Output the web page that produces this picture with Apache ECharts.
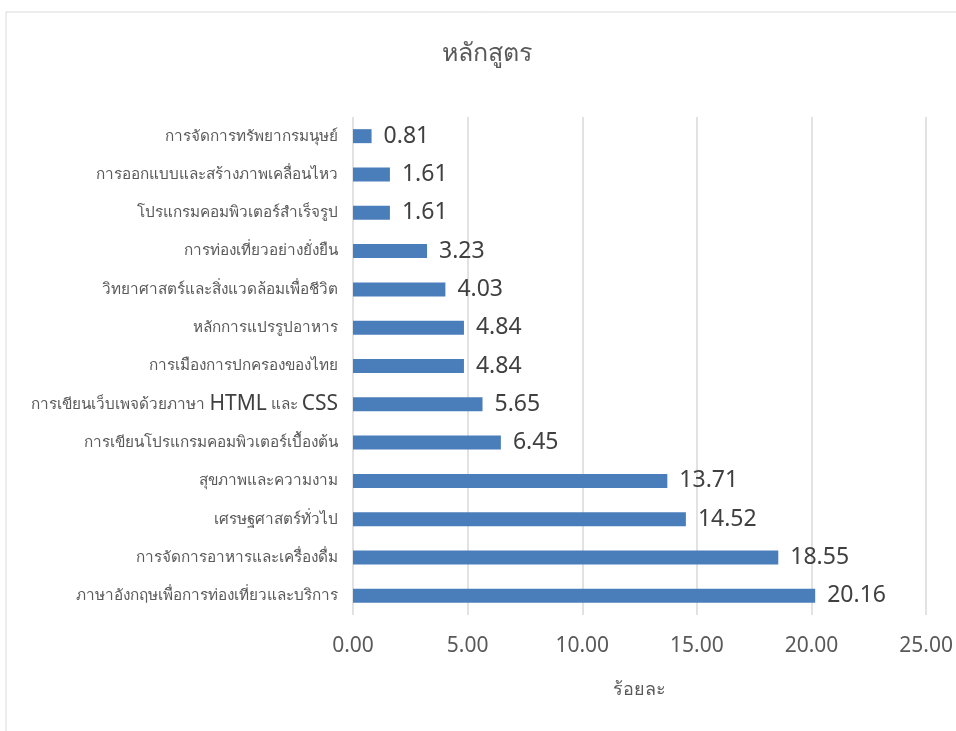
<!DOCTYPE html>
<html><head><meta charset="utf-8">
<style>html,body{margin:0;padding:0;background:#fff}#c{width:956px;height:731px}</style>
<script src="https://cdn.jsdelivr.net/npm/echarts@6/dist/echarts.min.js"></script>
</head><body><div id="c"></div>
<script>
var categories = [
  "ภาษาอังกฤษเพื่อการท่องเที่ยวและบริการ",
  "การจัดการอาหารและเครื่องดื่ม",
  "เศรษฐศาสตร์ทั่วไป",
  "สุขภาพและความงาม",
  "การเขียนโปรแกรมคอมพิวเตอร์เบื้องต้น",
  "การเขียนเว็บเพจด้วยภาษา HTML และ CSS",
  "การเมืองการปกครองของไทย",
  "หลักการแปรรูปอาหาร",
  "วิทยาศาสตร์และสิ่งแวดล้อมเพื่อชีวิต",
  "การท่องเที่ยวอย่างยั่งยืน",
  "โปรแกรมคอมพิวเตอร์สำเร็จรูป",
  "การออกแบบและสร้างภาพเคลื่อนไหว",
  "การจัดการทรัพยากรมนุษย์"
];
var values = [20.16, 18.55, 14.52, 13.71, 6.45, 5.65, 4.84, 4.84, 4.03, 3.23, 1.61, 1.61, 0.81];
var titleText = "หลักสูตร";
var xAxisName = "ร้อยละ";

var font = "'Noto Sans', 'Liberation Sans', sans-serif";

// split label into Thai and Latin runs so Latin words render larger, as in the reference
function richLabel(s) {
  var parts = s.split(/([A-Za-z]+)/);
  var out = '';
  parts.forEach(function(p){
    if (!p) return;
    out += /^[A-Za-z]+$/.test(p) ? '{l|' + p + '}' : '{t|' + p + '}';
  });
  return out;
}

var chart = echarts.init(document.getElementById('c'));
chart.setOption({
  animation: false,
  textStyle: {fontFamily: font},
  title: {text: titleText, left: 437, top: 36,
    textStyle: {fontSize: 25, fontWeight: 'normal', color: '#595959', fontFamily: font}},
  graphic: [{type: 'rect', shape: {x: 6, y: 12, width: 1000, height: 800},
    style: {fill: 'none', stroke: '#d9d9d9', lineWidth: 1}, silent: true}],
  grid: {left: 353, right: 28, top: 117, bottom: 116, containLabel: false},
  xAxis: {type: 'value', min: 0, max: 25, interval: 5,
    name: xAxisName, nameLocation: 'middle', nameGap: 66,
    nameTextStyle: {fontSize: 18, color: '#595959'},
    axisLine: {show: false}, axisTick: {show: false},
    axisLabel: {fontSize: 21, color: '#595959', margin: 21,
      formatter: function(v){return v.toFixed(2);}},
    splitLine: {show: true, lineStyle: {color: '#d9d9d9', width: 1.5}}},
  yAxis: {type: 'category', data: categories,
    axisLine: {show: false}, axisTick: {show: false},
    axisLabel: {margin: 15, formatter: richLabel,
      rich: {
        t: {fontSize: 15.3, color: '#595959', fontFamily: font},
        l: {fontSize: 21, color: '#404040', fontFamily: font}
      }}},
  series: [{type: 'bar', data: values, barWidth: 14,
    itemStyle: {color: '#4a7ebb'},
    label: {show: true, position: 'right', distance: 12, fontSize: 23, color: '#404040',
      formatter: function(p){return p.value.toFixed(2);}}}]
});
</script></body></html>
